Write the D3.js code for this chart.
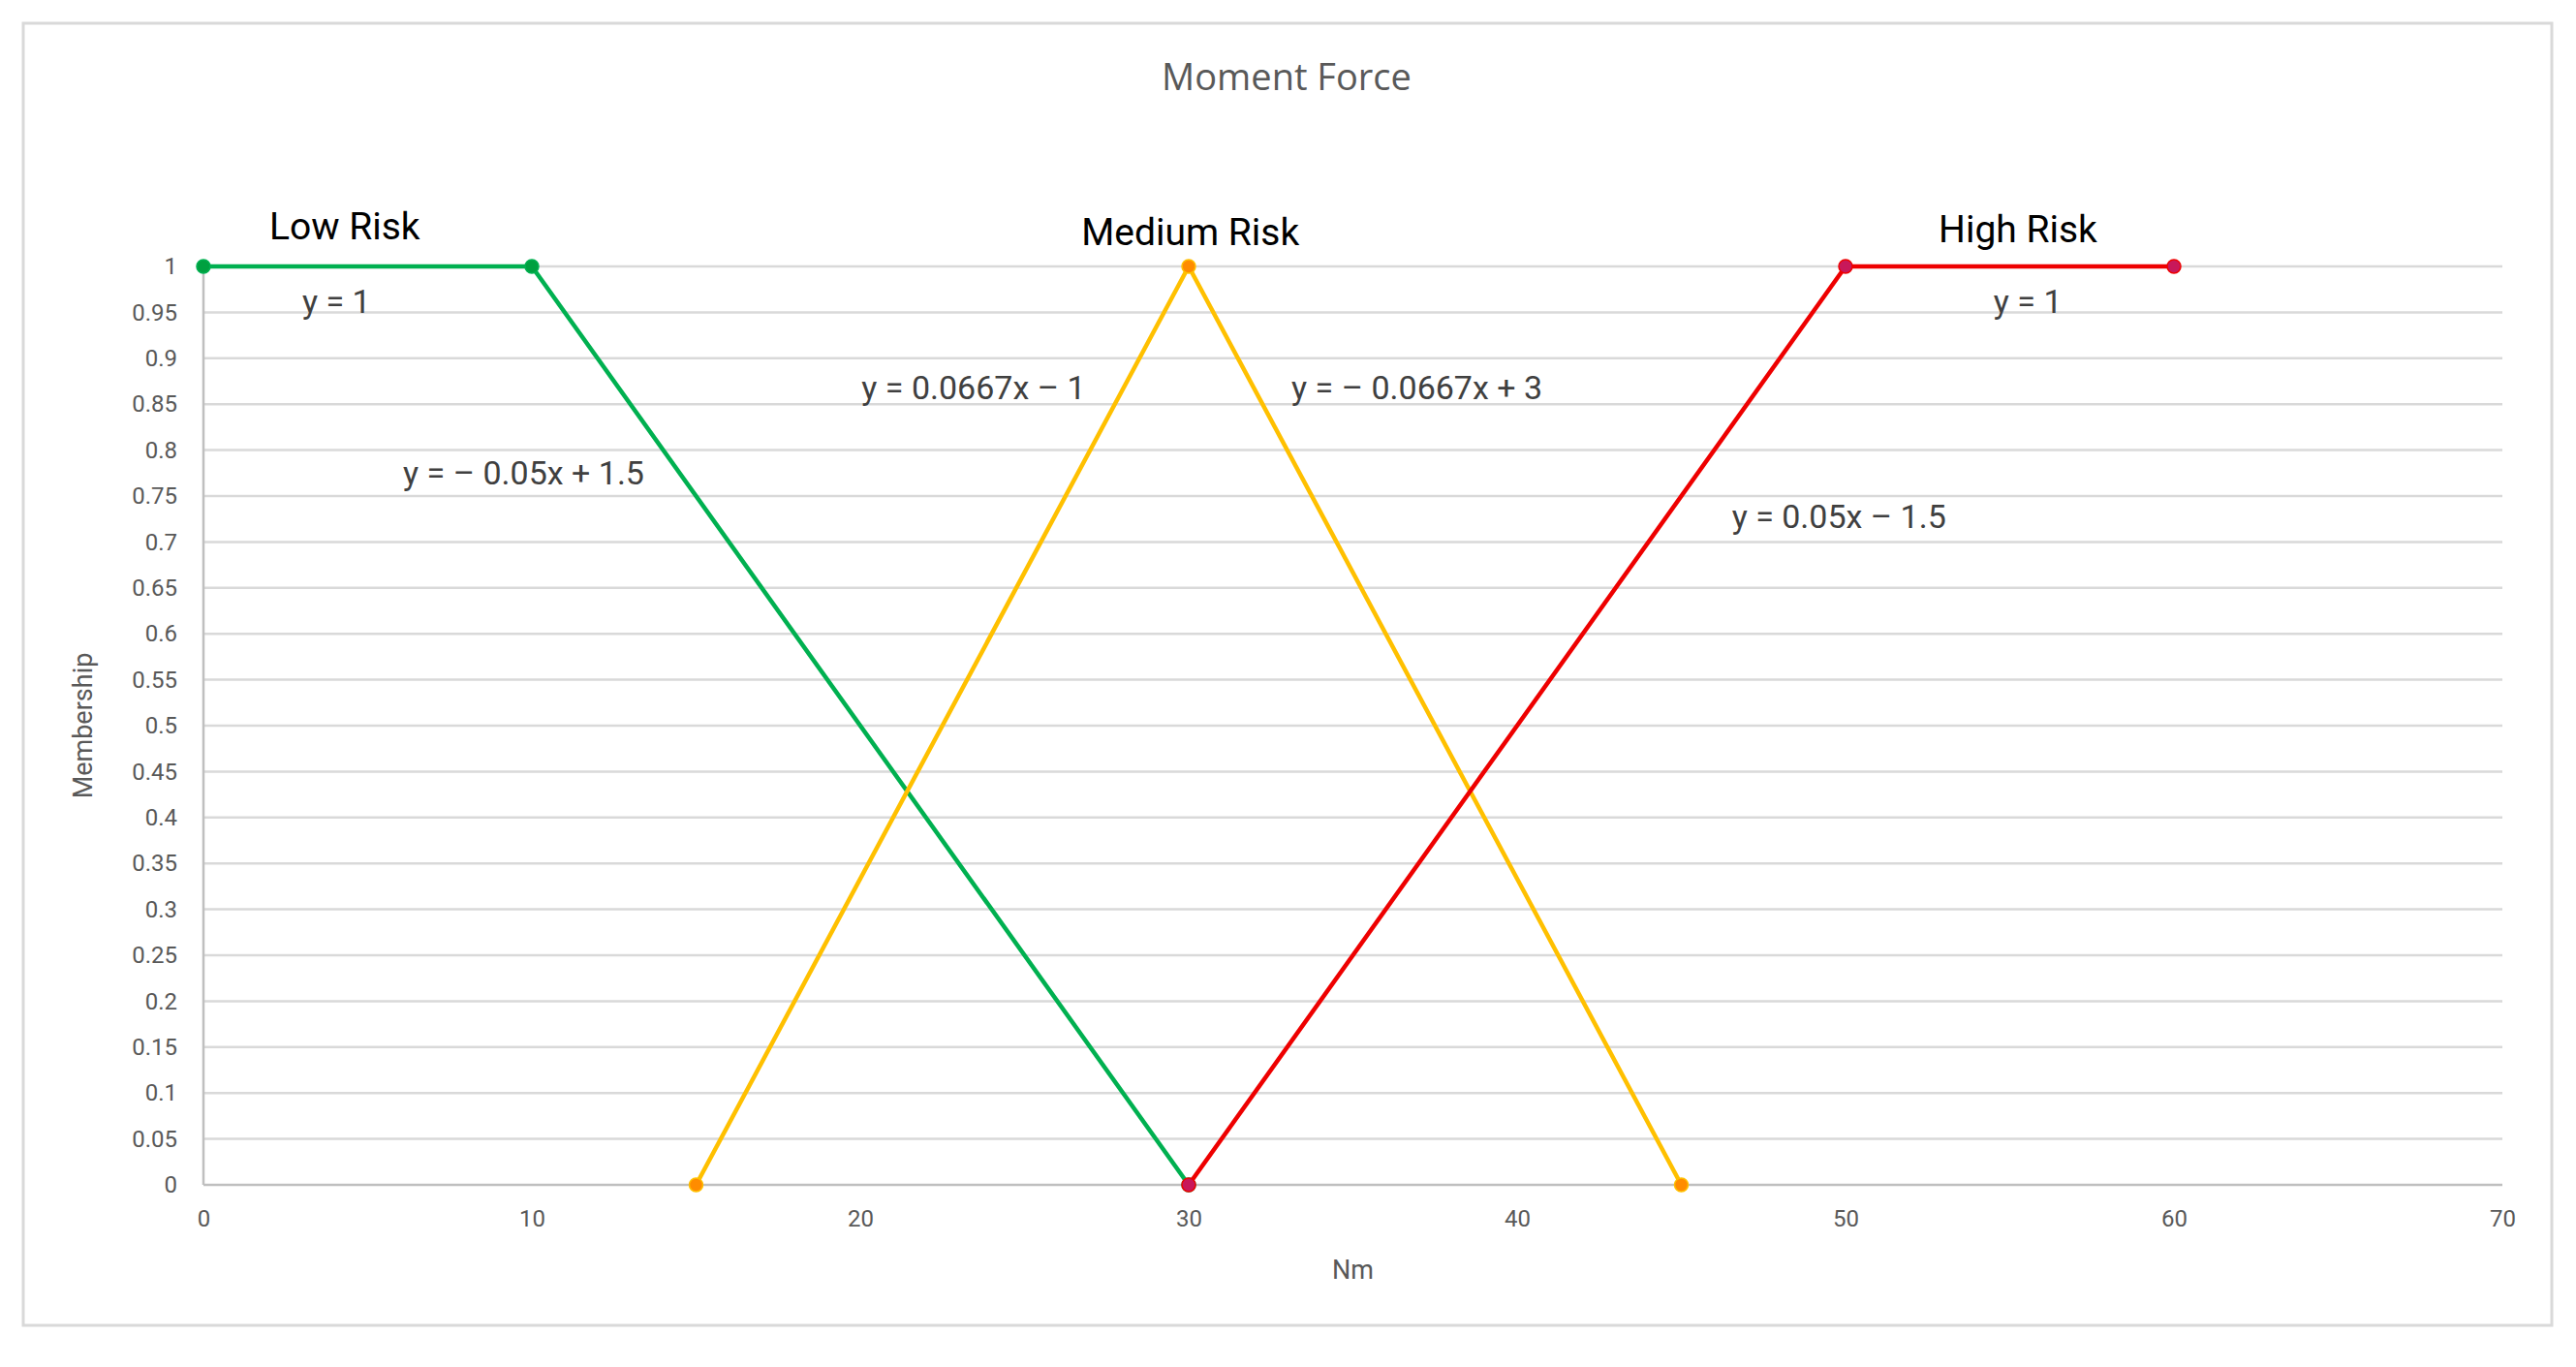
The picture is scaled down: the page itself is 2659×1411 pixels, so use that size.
<!DOCTYPE html>
<html>
<head>
<meta charset="utf-8">
<script src="https://cdn.jsdelivr.net/npm/d3@7"></script>
<style>
  body { margin: 0; background: #fff; }
  svg { display: block; }
</style>
</head>
<body>
<div id="container"></div>
<script>
// membership functions (x in Nm, y membership)
const lowRisk = [[0, 1], [10, 1], [30, 0]]
const mediumRisk = [[15, 0], [30, 1], [45, 0]]
const highRisk = [[30, 0], [50, 1], [60, 1]]

const seriesNames = ["Low Risk", "Medium Risk", "High Risk"]
const xTicks = [0, 10, 20, 30, 40, 50, 60, 70]
const yTicks = d3.range(0, 21).map(i => i * 0.05)

// text labels, anchored in data units
const labelText = ["Low Risk", "Medium Risk", "High Risk", "y = 1", "y = \u2013 0.05x + 1.5", "y = 0.0667x \u2013 1", "y = \u2013 0.0667x + 3", "y = 0.05x \u2013 1.5", "y = 1"]
const labelX = [4.3, 30.05, 55.25, 4.05, 9.75, 23.45, 36.95, 49.8, 55.55]
const labelY = [1.043, 1.037, 1.04, 0.962, 0.775, 0.868, 0.868, 0.728, 0.962]

const W = 2659, H = 1411
const plotLeft = 210, plotRight = 2583, plotTop = 275, plotBottom = 1223

const lineColors = ["#00b050", "#ffc000", "#ee0000"]
const markerColors = ["#00a040", "#ff8c00", "#c8185a"]

const svg = d3.select("#container").append("svg")
    .attr("width", W)
    .attr("height", H)

// chart frame
svg.append("rect")
    .attr("x", 24).attr("y", 24)
    .attr("width", 2610).attr("height", 1344)
    .attr("fill", "#fff")
    .attr("stroke", "#d9d9d9")
    .attr("stroke-width", 3)

const x = d3.scaleLinear().domain([0, 70]).range([plotLeft, plotRight])
const y = d3.scaleLinear().domain([0, 1]).range([plotBottom, plotTop])

// gridlines
svg.append("g")
    .selectAll("line")
    .data(yTicks)
    .enter()
    .append("line")
    .attr("x1", x(0)).attr("x2", x(70))
    .attr("y1", d => y(d)).attr("y2", d => y(d))
    .attr("stroke", (d, i) => i === 0 ? "#bfbfbf" : "#d9d9d9")
    .attr("stroke-width", 2.5)

// vertical axis line
svg.append("line")
    .attr("x1", x(0)).attr("x2", x(0))
    .attr("y1", y(0)).attr("y2", y(1))
    .attr("stroke", "#bfbfbf")
    .attr("stroke-width", 2.5)

const yAxis = d3.axisLeft(y)
    .tickValues(yTicks)
    .tickSize(0)
    .tickPadding(27)
    .tickFormat(d => String(+d.toFixed(2)))

const xAxis = d3.axisBottom(x)
    .tickValues(xTicks)
    .tickSize(0)
    .tickPadding(26)

const gy = svg.append("g").attr("transform", `translate(${plotLeft},0)`).call(yAxis)
const gx = svg.append("g").attr("transform", `translate(0,${plotBottom})`).call(xAxis)

for (const g of [gx, gy]) {
    g.select(".domain").remove()
    g.selectAll("text")
        .attr("font-family", "Roboto")
        .attr("font-size", 24)
        .attr("fill", "#595959")
}

// axis titles
svg.append("text")
    .attr("x", (plotLeft + plotRight) / 2)
    .attr("y", 1320)
    .attr("text-anchor", "middle")
    .attr("font-family", "Roboto")
    .attr("font-size", 27)
    .attr("fill", "#595959")
    .text("Nm")

svg.append("text")
    .attr("transform", `translate(95,${(plotTop + plotBottom) / 2}) rotate(-90)`)
    .attr("text-anchor", "middle")
    .attr("font-family", "Roboto")
    .attr("font-size", 27)
    .attr("fill", "#595959")
    .text("Membership")

// chart title
svg.append("text")
    .attr("x", 1328)
    .attr("y", 93)
    .attr("text-anchor", "middle")
    .attr("font-family", "Open Sans")
    .attr("font-size", 38)
    .attr("fill", "#595959")
    .text("Moment Force")

// series
const allSeries = [lowRisk, mediumRisk, highRisk]
const line = d3.line().x(d => x(d[0])).y(d => y(d[1]))

allSeries.forEach((s, i) => {
    const g = svg.append("g").attr("class", "series").attr("data-name", seriesNames[i])
    g.append("path")
        .attr("d", line(s))
        .attr("fill", "none")
        .attr("stroke", lineColors[i])
        .attr("stroke-width", 4.5)
        .attr("stroke-linejoin", "round")
    g.selectAll("circle")
        .data(s)
        .enter()
        .append("circle")
        .attr("cx", d => x(d[0]))
        .attr("cy", d => y(d[1]))
        .attr("r", 7)
        .attr("fill", markerColors[i])
        .attr("stroke", lineColors[i])
        .attr("stroke-width", 1.5)
})

// annotations
svg.append("g")
    .selectAll("text")
    .data(labelText)
    .enter()
    .append("text")
    .attr("x", (d, i) => x(labelX[i]))
    .attr("y", (d, i) => y(labelY[i]))
    .attr("text-anchor", "middle")
    .attr("dominant-baseline", "central")
    .attr("font-family", "Roboto")
    .attr("font-size", (d, i) => i < 3 ? 39 : 34)
    .attr("fill", (d, i) => i < 3 ? "#000" : "#404040")
    .text(d => d)
</script>
</body>
</html>
